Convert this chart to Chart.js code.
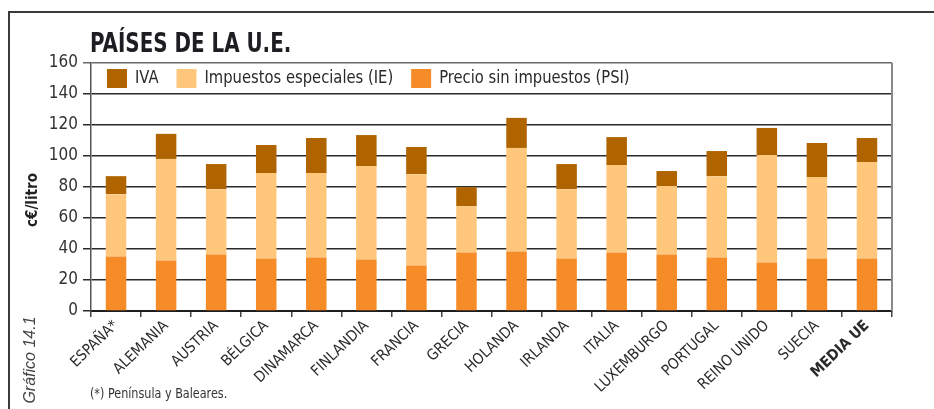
<!DOCTYPE html>
<html>
<head>
<meta charset="utf-8">
<title>Países de la U.E.</title>
<script src="https://cdn.jsdelivr.net/npm/chart.js@4/dist/chart.umd.min.js"></script>
<style>
    body { margin: 0; background: #fff; }
    #wrap { position: relative; width: 934px; height: 409px; overflow: hidden; }
    #frame {
        position: absolute; left: 8px; top: 11px; width: 960px; height: 440px;
        border-left: 2px solid #3a3a3a; border-top: 2px solid #3a3a3a;
    }
    #chart { position: absolute; left: 0; top: 0; }
    .txt { position: absolute; font-family: "DejaVu Sans Condensed", "Liberation Sans", sans-serif; color: #222; white-space: nowrap; line-height: 1; }
    #title { left: 90px; top: 30px; font-size: 26px; font-weight: bold; color: #1e1e22; transform: scaleX(0.85); transform-origin: 0 0; }
    #unit { left: 32px; top: 200px; font-size: 15px; font-weight: bold; transform: translate(-50%, -50%) rotate(-90deg); }
    #ref { left: 30px; top: 360px; font-family: "Liberation Sans", sans-serif; font-style: italic; font-size: 16px; color: #444; transform: translate(-50%, -50%) rotate(-90deg); }
    #note { left: 90px; top: 386px; font-size: 14px; color: #333; transform: scaleX(0.89); transform-origin: 0 0; }
</style>
</head>
<body>
<div id="wrap">
    <div id="frame"></div>
    <canvas id="chart" width="934" height="409"></canvas>
    <div class="txt" id="title">PAÍSES DE LA U.E.</div>
    <div class="txt" id="unit">c€/litro</div>
    <div class="txt" id="ref">Gráfico 14.1</div>
    <div class="txt" id="note">(*) Península y Baleares.</div>
</div>

<script>
const countries = ['ESPAÑA*', 'ALEMANIA', 'AUSTRIA', 'BÉLGICA', 'DINAMARCA', 'FINLANDIA', 'FRANCIA', 'GRECIA',
    'HOLANDA', 'IRLANDA', 'ITALIA', 'LUXEMBURGO', 'PORTUGAL', 'REINO UNIDO', 'SUECIA', 'MEDIA UE'];

// c€/litro
const psi = [35.2, 32.6, 36.5, 33.9, 34.5, 33.2, 29.4, 37.8, 38.4, 33.9, 37.8, 36.5, 34.5, 31.3, 33.9, 33.9];
const ie  = [40.2, 65.5, 42.1, 55.1, 54.5, 60.3, 58.9, 29.8, 66.8, 44.7, 56.4, 44.1, 52.5, 69.3, 52.5, 62.2];
const iva = [11.6, 16.2, 16.2, 18.1, 22.6, 20.0, 17.5, 12.3, 19.4, 16.2, 18.0,  9.7, 16.2, 17.5, 22.0, 15.5];

const yTicks = [0, 20, 40, 60, 80, 100, 120, 140, 160];

const colorIva = '#b06400';
const colorIe = '#fec77c';
const colorPsi = '#f68c28';

const narrow = '"DejaVu Sans Condensed", "Liberation Sans", sans-serif';

// legend drawn inside the top band of the plot (IVA first, like the stack top-down)
const bandLegend = {
    id: 'bandLegend',
    afterDraw(chart) {
        const ctx = chart.ctx;
        const area = chart.chartArea;
        const items = chart.data.datasets.slice().reverse();
        const squeeze = 0.965;
        let x = area.left + 16;
        const y = area.top + 6;
        ctx.save();
        ctx.font = '17px ' + narrow;
        ctx.textBaseline = 'middle';
        items.forEach(ds => {
            ctx.fillStyle = ds.backgroundColor;
            ctx.fillRect(x, y, 20, 19);
            ctx.fillStyle = '#2a2a2a';
            const w = ctx.measureText(ds.label).width * squeeze;
            ctx.save();
            ctx.translate(x + 28, y + 10);
            ctx.scale(squeeze, 1);
            ctx.fillText(ds.label, 0, 0);
            ctx.restore();
            x += 28 + w + 18;
        });
        ctx.restore();
    }
};

// right-hand border of the plot
const plotBorder = {
    id: 'plotBorder',
    afterDatasetsDraw(chart) {
        const ctx = chart.ctx;
        const area = chart.chartArea;
        ctx.save();
        ctx.strokeStyle = '#8a8a8a';
        ctx.lineWidth = 2;
        ctx.beginPath();
        ctx.moveTo(area.right, area.top);
        ctx.lineTo(area.right, area.bottom);
        ctx.stroke();
        ctx.restore();
    }
};

const ctx = document.getElementById('chart').getContext('2d');
new Chart(ctx, {
    type: 'bar',
    data: {
        labels: countries,
        datasets: [
            { label: 'Precio sin impuestos (PSI)', data: psi, backgroundColor: colorPsi },
            { label: 'Impuestos especiales (IE)', data: ie, backgroundColor: colorIe },
            { label: 'IVA', data: iva, backgroundColor: colorIva }
        ]
    },
    options: {
        responsive: false,
        animation: false,
        layout: { padding: { left: 0, right: 42, top: 63, bottom: 0 } },
        datasets: { bar: { barPercentage: 0.41, categoryPercentage: 1.0, borderWidth: 0 } },
        plugins: {
            legend: { display: false },
            title: { display: false },
            tooltip: { enabled: false }
        },
        scales: {
            x: {
                stacked: true,
                afterFit: scale => { scale.height = 98; },
                grid: { drawOnChartArea: false, drawTicks: true, tickLength: 6, color: '#444', lineWidth: 1.5, offset: true },
                border: { color: '#1e1e1e', width: 2 },
                ticks: {
                    color: '#2a2a2a',
                    minRotation: 44,
                    maxRotation: 44,
                    padding: 0,
                    font: c => ({ family: narrow, size: 15, weight: c.index === countries.length - 1 ? 'bold' : 'normal' })
                }
            },
            y: {
                stacked: true,
                min: 0,
                max: 160,
                afterFit: scale => { scale.width = 91; },
                afterBuildTicks: scale => { scale.ticks = yTicks.map(v => ({ value: v })); },
                grid: {
                    color: c => c.tick && c.tick.value === 160 ? '#6a6a6a' : '#2b2b2b',
                    lineWidth: 1.5,
                    tickLength: 8
                },
                border: { color: '#555', width: 1.5 },
                ticks: { color: '#333', padding: 5, font: { family: narrow, size: 17 } }
            }
        }
    },
    plugins: [bandLegend, plotBorder]
});
</script>
</body>
</html>
